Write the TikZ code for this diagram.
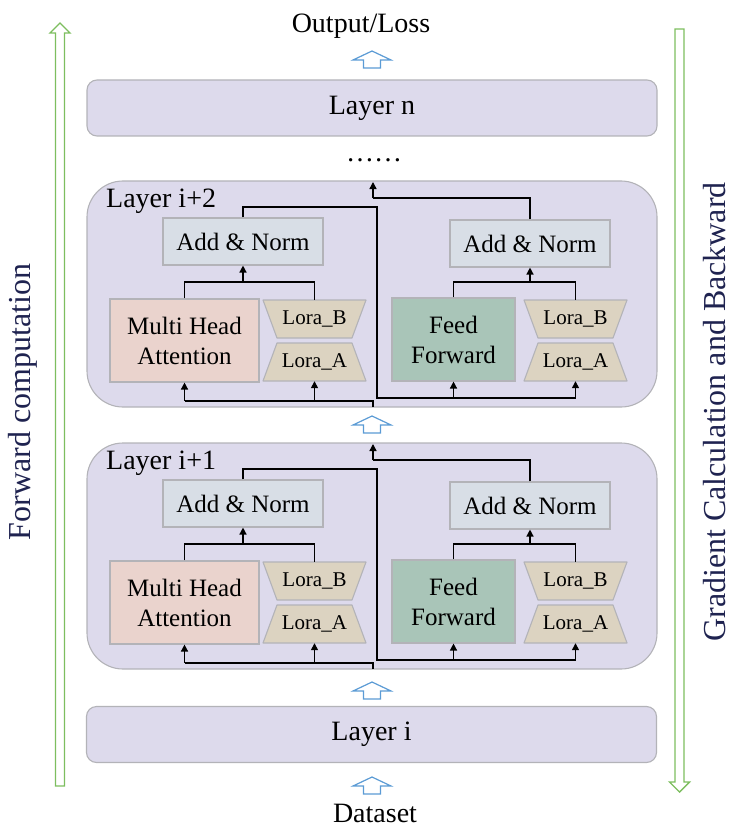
\documentclass[tikz,border=0pt]{standalone}
\usepackage{fontspec}
\setmainfont{Liberation Serif}
\usetikzlibrary{arrows.meta,calc}
\definecolor{lav}{HTML}{DDDAEC}
\definecolor{bordergray}{HTML}{B3B3B8}
\definecolor{anfill}{HTML}{D8DEE6}
\definecolor{mhafill}{HTML}{EAD3CD}
\definecolor{fffill}{HTML}{A9C5B8}
\definecolor{lorafill}{HTML}{DCD3C1}
\definecolor{greenc}{HTML}{7DBE5F}
\definecolor{bluec}{HTML}{5B9BD5}
\definecolor{navy}{HTML}{1F2350}
\tikzset{
  box/.style={draw=bordergray, line width=1.1pt, inner sep=0pt, align=center},
  layerbox/.style={box, fill=lav, rounded corners=10pt, minimum width=570pt, minimum height=56pt, font=\fontsize{28}{30}\selectfont},
  groupbox/.style={box, fill=lav, rounded corners=36pt, minimum width=570pt, minimum height=226pt},
  addnorm/.style={box, fill=anfill, minimum width=160pt, minimum height=47pt, font=\fontsize{25}{30}\selectfont},
  mhabox/.style={box, fill=mhafill, minimum width=149pt, minimum height=83pt, font=\fontsize{25}{30}\selectfont},
  ffbox/.style={box, fill=fffill, minimum width=123pt, minimum height=83pt, font=\fontsize{25}{30}\selectfont},
  lorashape/.style={draw=bordergray, line width=1.1pt, fill=lorafill, line join=round},
  loratext/.style={inner sep=0pt, minimum width=103pt, minimum height=38pt, font=\fontsize{21}{24}\selectfont},
  conn/.style={line width=1.4pt, black},
  arr/.style={conn, -{Triangle[length=7pt,width=7pt]}},
  bluearr/.style={draw=bluec, line width=1.2pt, fill=white, line join=miter},
  greenarr/.style={draw=greenc, line width=1.4pt, fill=white, line join=miter},
  lbl/.style={font=\fontsize{28}{30}\selectfont, inner sep=0pt},
  sidelbl/.style={font=\fontsize{32}{36}\selectfont, text=navy, rotate=90, inner sep=0pt}
}
% #1 name, #2 cx, #3 cy, #4 text, #5 = 1 (wide top) or -1 (wide bottom)
\newcommand\mylora[5]{%
  \begin{scope}[shift={(#2,#3)}]
    \filldraw[lorashape] (-51.5,-19*#5) -- (51.5,-19*#5) -- (37.5,19*#5) -- (-37.5,19*#5) -- cycle;
    \node[loratext] (#1) at (0,0) {#4};
  \end{scope}}
\newcommand\mygroup[3]{%
\begin{scope}[shift={(0,#2)}]
  \node[groupbox] (#1grp) at (372,294) {};
  \node[lbl, anchor=base west] (#1lbl) at (106,207) {#3};
  \node[addnorm] (#1an1) at (243,241.5) {Add \& Norm};
  \node[mhabox] (#1mha) at (184.5,340.5) {Multi Head\\Attention};
  \mylora{#1lb1}{314.5}{319}{Lora\_B}{1}
  \mylora{#1la1}{314.5}{362}{Lora\_A}{-1}
  \node[addnorm] (#1an2) at (530,243.5) {Add \& Norm};
  \node[ffbox] (#1ff) at (453.5,339.5) {Feed\\Forward};
  \mylora{#1lb2}{575.5}{319}{Lora\_B}{1}
  \mylora{#1la2}{575.5}{362}{Lora\_A}{-1}
  \coordinate (#1in) at (373,407);
  \coordinate (#1inc) at (373,401);
  \coordinate (#1j1) at (243,282);
  \coordinate (#1j2) at (530,282);
  \coordinate (#1r1) at (377,207);
  \coordinate (#1r2) at (377,398);
  \coordinate (#1o1) at (373,198);
  \coordinate (#1out) at (373,182);
  % input
  \draw[conn] (#1in) -- (#1inc) -- (#1mha.south |- #1inc);
  \draw[arr] (#1mha.south |- #1inc) -- (#1mha.south);
  \draw[arr] (#1la1.south |- #1inc) -- (#1la1.south);
  % attention + lora to add&norm
  \draw[conn] (#1mha.north) |- (#1j1) -| (#1lb1.north);
  \draw[arr] (#1j1) -- (#1an1.south);
  % residual to feed forward
  \draw[conn] (#1an1.north) |- (#1r1) -- (#1r2) -- (#1la2.south |- #1r2);
  \draw[arr] (#1ff.south |- #1r2) -- (#1ff.south);
  \draw[arr] (#1la2.south |- #1r2) -- (#1la2.south);
  % feed forward + lora to add&norm
  \draw[conn] (#1ff.north) |- (#1j2) -| (#1lb2.north);
  \draw[arr] (#1j2) -- (#1an2.south);
  % output
  \draw[conn] (#1an2.north) |- (#1o1);
  \draw[arr] (#1o1) -- (#1out);
\end{scope}}
\newcommand\myblueup[2]{%
  \draw[bluearr] (#1,#2) -- ++(19,9) -- ++(-10.5,0) -- ++(0,8) -- ++(-17,0) -- ++(0,-8) -- ++(-10.5,0) -- cycle;}
\begin{document}
\begin{tikzpicture}[x=1pt,y=-1pt]
\useasboundingbox (0,0) rectangle (733,829);
% side arrows
\draw[greenarr] (60,23) -- (70,33) -- (64.5,33) -- (64.5,786) -- (55.5,786) -- (55.5,33) -- (50,33) -- cycle;
\draw[greenarr] (679.5,792) -- (689.5,782) -- (684,782) -- (684,29) -- (675,29) -- (675,782) -- (669.5,782) -- cycle;
\node[sidelbl] (fwd) at (23,402) {Forward computation};
\node[sidelbl] (grad) at (715,412) {Gradient Calculation and Backward};
% top
\node[lbl] (outl) at (361,26) {Output/Loss};
\myblueup{372}{51}
\node[layerbox] (ln) at (372,108) {Layer n};
\node[lbl] (dots) at (374,160) {……};
% groups
\mygroup{g}{0}{Layer i+2}
\myblueup{372}{416}
\mygroup{h}{262}{Layer i+1}
\myblueup{372}{682}
\node[layerbox] (li) at (371.5,734.5) {Layer i};
\myblueup{372}{777}
\node[lbl] (ds) at (375,813) {Dataset};
\end{tikzpicture}
\end{document}
